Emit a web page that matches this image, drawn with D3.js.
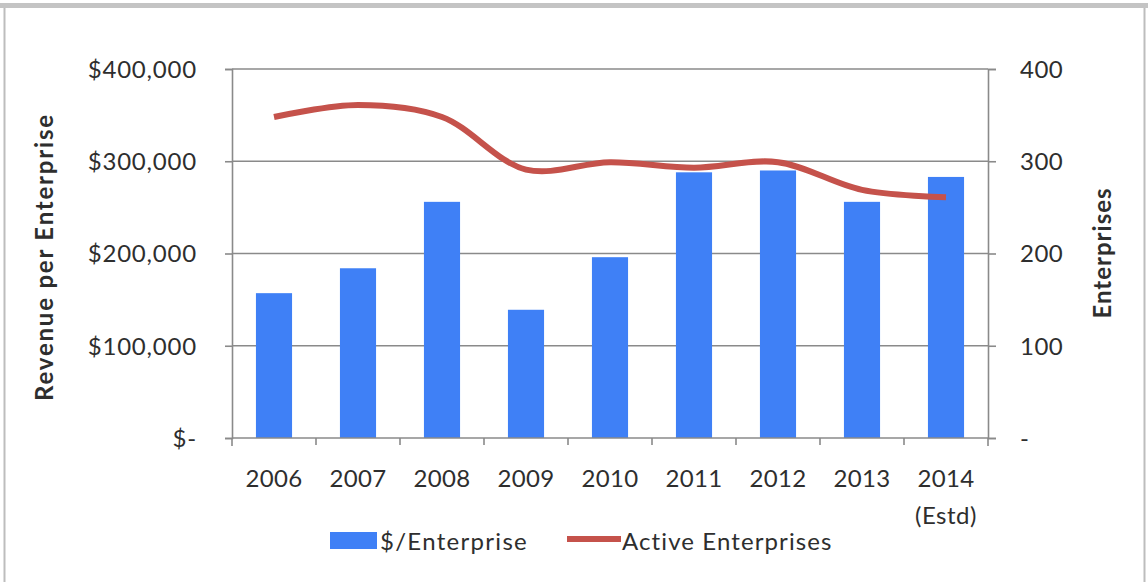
<!DOCTYPE html>
<html>
<head>
<meta charset="utf-8">
<script src="https://cdn.jsdelivr.net/npm/d3@7"></script>
<style>
  html, body { margin: 0; padding: 0; background: #fff; }
  svg { display: block; }
  text { font-family: Lato, "Open Sans", sans-serif; fill: #2e2e2e; }
</style>
</head>
<body>
<svg id="chart" width="1148" height="582"></svg>
<script>
// Revenue per enterprise (bars, left axis) and active enterprises (line, right axis)
const years = ["2006", "2007", "2008", "2009", "2010", "2011", "2012", "2013", "2014"];
const yearSub = ["", "", "", "", "", "", "", "", "(Estd)"];
const revenuePerEnterprise = [157000, 184000, 256000, 139000, 196000, 288000, 290000, 256000, 283000];
const activeEnterprises = [348, 361, 348, 291, 299, 293, 299, 269, 261];
const leftTicks = [0, 100000, 200000, 300000, 400000];
const rightTicks = [0, 100, 200, 300, 400];

const svg = d3.select("#chart");
const W = 1148;
const m = { left: 232, right: 988, top: 69, bottom: 438 };
const FS = 24;
const axisGrey = "#8a8a8a";

// outer frame
svg.append("rect").attr("x", 4.5).attr("y", 5.5).attr("width", 1140).attr("height", 600)
  .attr("fill", "none").attr("stroke", "#bdbdbd").attr("stroke-width", 2);
svg.append("rect").attr("x", 0).attr("y", 3).attr("width", W).attr("height", 5)
  .attr("fill", "#c4c4c4");

const x = d3.scaleBand().domain(years).range([m.left, m.right]).paddingInner(0.57).paddingOuter(0.285);
const xOuter = d3.scaleBand().domain(years).range([m.left, m.right]);
const yL = d3.scaleLinear().domain([0, 400000]).range([m.bottom, m.top]);
const yR = d3.scaleLinear().domain([0, 400]).range([m.bottom, m.top]);

// gridlines
svg.append("g").selectAll("line").data(leftTicks.slice(1)).join("line")
  .attr("x1", m.left).attr("x2", m.right)
  .attr("y1", d => yL(d)).attr("y2", d => yL(d))
  .attr("stroke", axisGrey).attr("stroke-width", 1.6);

// bars
svg.append("g").selectAll("rect").data(years).join("rect")
  .attr("x", d => x(d)).attr("width", x.bandwidth())
  .attr("y", (d, i) => yL(revenuePerEnterprise[i]))
  .attr("height", (d, i) => yL(0) - yL(revenuePerEnterprise[i]))
  .attr("fill", "#3f80f6");

// left axis
const fmtL = d => d === 0 ? "$-" : "$" + d3.format(",")(d);
const gL = svg.append("g").attr("transform", `translate(${m.left},0)`)
  .call(d3.axisLeft(yL).tickValues(leftTicks).tickFormat(fmtL).tickSizeOuter(0).tickSize(7).tickPadding(28));
gL.select(".domain").attr("stroke", axisGrey).attr("stroke-width", 1.6);
gL.selectAll(".tick line").attr("stroke", axisGrey).attr("stroke-width", 1.6);
gL.selectAll("text").attr("font-size", FS).attr("letter-spacing", 0.8).attr("fill", "#333").attr("dy", "0.35em");
svg.append("line").attr("x1", m.left).attr("x2", m.left).attr("y1", m.bottom).attr("y2", m.bottom + 8)
  .attr("stroke", axisGrey).attr("stroke-width", 1.6);

// right axis
const fmtR = d => d === 0 ? "-" : d3.format(",")(d);
const gR = svg.append("g").attr("transform", `translate(${m.right},0)`)
  .call(d3.axisRight(yR).tickValues(rightTicks).tickFormat(fmtR).tickSizeOuter(0).tickSize(8).tickPadding(24));
gR.select(".domain").attr("stroke", axisGrey).attr("stroke-width", 1.6);
gR.selectAll(".tick line").attr("stroke", axisGrey).attr("stroke-width", 1.6);
gR.selectAll("text").attr("font-size", FS).attr("letter-spacing", 0.5).attr("fill", "#333").attr("dy", "0.35em");
svg.append("line").attr("x1", m.right).attr("x2", m.right).attr("y1", m.bottom).attr("y2", m.bottom + 8)
  .attr("stroke", axisGrey).attr("stroke-width", 1.6);

// x axis line with boundary ticks
svg.append("line").attr("x1", m.left).attr("x2", m.right).attr("y1", m.bottom).attr("y2", m.bottom)
  .attr("stroke", axisGrey).attr("stroke-width", 1.6);
svg.append("g").selectAll("line").data(years.slice(1)).join("line")
  .attr("x1", d => xOuter(d)).attr("x2", d => xOuter(d))
  .attr("y1", m.bottom).attr("y2", m.bottom + 7)
  .attr("stroke", axisGrey).attr("stroke-width", 1.6);

// category labels
const cx = d => xOuter(d) + xOuter.bandwidth() / 2;
svg.append("g").selectAll("text").data(years).join("text")
  .attr("x", cx).attr("y", 487).attr("text-anchor", "middle")
  .attr("font-size", FS).attr("letter-spacing", 0.3).attr("fill", "#333").text(d => d);
svg.append("g").selectAll("text").data(years.filter((d, i) => yearSub[i])).join("text")
  .attr("x", cx).attr("y", 524).attr("text-anchor", "middle")
  .attr("font-size", FS).attr("letter-spacing", 0.5).attr("fill", "#333").text(d => yearSub[years.indexOf(d)]);

// active enterprises line
const line = d3.line()
  .x((d, i) => cx(years[i]))
  .y(d => yR(d))
  .curve(d3.curveCatmullRom.alpha(0.5));
svg.append("path").datum(activeEnterprises).attr("d", line)
  .attr("fill", "none").attr("stroke", "#c5524b").attr("stroke-width", 6)
  .attr("stroke-linejoin", "round");

// axis titles
svg.append("text").attr("transform", `translate(53,257) rotate(-90)`)
  .attr("text-anchor", "middle").attr("font-size", FS).attr("font-weight", "bold")
  .attr("letter-spacing", 1.8).attr("fill", "#222").text("Revenue per Enterprise");
svg.append("text").attr("transform", `translate(1111,253) rotate(-90)`)
  .attr("text-anchor", "middle").attr("font-size", FS).attr("font-weight", "bold")
  .attr("letter-spacing", 1).attr("fill", "#222").text("Enterprises");

// legend
const lg = svg.append("g");
lg.append("rect").attr("x", 330).attr("y", 532).attr("width", 47).attr("height", 17).attr("fill", "#3f80f6");
lg.append("text").attr("x", 380).attr("y", 550).attr("font-size", FS).attr("letter-spacing", 1.3)
  .attr("fill", "#333").text("$/Enterprise");
lg.append("line").attr("x1", 567).attr("x2", 621).attr("y1", 539).attr("y2", 539)
  .attr("stroke", "#c5524b").attr("stroke-width", 6);
lg.append("text").attr("x", 622).attr("y", 550).attr("font-size", FS).attr("letter-spacing", 1.1)
  .attr("fill", "#333").text("Active Enterprises");
</script>
</body>
</html>
